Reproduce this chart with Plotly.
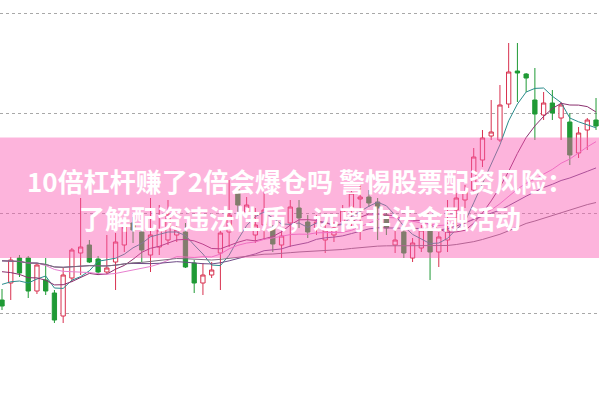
import plotly.graph_objects as go
import pandas as pd

# ---- data (prices) ----
day_index = list(range(69))
open_px = [9.13, 9.30, 9.55, 9.55, 9.22, 9.33, 9.20, 8.97, 9.35, 9.60,
           9.68, 9.54, 9.41, 9.51, 9.68, 9.90, 9.81, 9.58, 9.66, 9.73,
           9.78, 9.81, 9.50, 9.30, 9.38, 9.60, 9.81, 10.23, 10.01, 9.78,
           9.88, 9.85, 9.68, 9.90, 10.05, 9.91, 9.85, 9.73, 9.78, 9.91,
           10.06, 10.14, 10.16, 10.11, 9.98, 9.68, 9.81, 9.55, 9.65, 9.83,
           9.61, 9.73, 10.03, 10.13, 10.23, 10.53, 10.77, 10.73, 11.09, 11.42,
           11.39, 11.13, 10.98, 11.10, 10.95, 10.91, 10.60, 10.83, 10.93]
high_px = [9.24, 9.56, 9.58, 9.57, 9.50, 9.55, 9.23, 9.45, 9.65, 10.15,
           9.73, 9.57, 9.78, 9.80, 9.91, 9.96, 9.86, 10.15, 10.08, 10.13,
           9.93, 9.90, 9.53, 9.50, 9.51, 9.86, 10.33, 10.30, 10.16, 10.05,
           10.21, 9.88, 9.83, 10.13, 10.13, 9.98, 9.98, 9.90, 9.91, 10.08,
           10.23, 10.28, 10.23, 10.15, 10.03, 9.83, 9.85, 9.75, 9.88, 9.88,
           9.81, 10.13, 10.20, 10.28, 10.65, 10.83, 11.13, 11.28, 11.70, 11.70,
           11.40, 11.45, 11.21, 11.23, 11.11, 11.00, 10.86, 10.95, 11.15]
low_px = [9.03, 9.13, 9.36, 9.15, 9.19, 9.18, 8.90, 8.90, 9.31, 9.38,
          9.50, 9.38, 9.39, 9.23, 9.61, 9.70, 9.51, 9.41, 9.58, 9.68,
          9.71, 9.45, 9.20, 9.18, 9.35, 9.23, 9.66, 9.96, 9.98, 9.70,
          9.73, 9.61, 9.55, 9.66, 9.85, 9.75, 9.78, 9.60, 9.71, 9.85,
          9.85, 9.73, 10.06, 9.73, 9.78, 9.60, 9.55, 9.51, 9.61, 9.33,
          9.46, 9.61, 9.86, 10.05, 10.20, 10.46, 10.73, 10.71, 11.05, 11.11,
          11.21, 10.73, 10.93, 10.93, 10.73, 10.48, 10.55, 10.63, 10.83]
close_px = [9.07, 9.53, 9.40, 9.22, 9.48, 9.22, 8.93, 9.38, 9.63, 9.66,
            9.51, 9.41, 9.45, 9.71, 9.86, 9.83, 9.63, 9.78, 9.83, 9.98,
            9.83, 9.46, 9.30, 9.38, 9.43, 9.80, 9.98, 10.08, 10.08, 9.88,
            10.03, 9.69, 9.77, 10.06, 9.95, 9.81, 9.91, 9.83, 9.85, 10.03,
            10.20, 10.16, 10.10, 10.05, 9.85, 9.73, 9.60, 9.70, 9.83, 9.61,
            9.76, 9.83, 10.15, 10.21, 10.56, 10.75, 10.81, 11.08, 11.41, 11.40,
            11.35, 10.99, 11.10, 11.00, 11.08, 10.58, 10.80, 10.93, 10.87]
# closes before the first visible day (only used to warm up the averages)
prior_close = [9.70, 9.72, 9.75, 9.72, 9.68, 9.65, 9.62, 9.58, 9.55, 9.50,
               9.45, 9.40, 9.36, 9.32, 9.28]

ma_periods = [5, 10, 20, 30, 60]
ma_colors = ["#2b8c8c", "#8a2f6e", "#e77fcf", "#6e4a86", "#7d6d7d"]

title_line1 = "10倍杠杆赚了2倍会爆仓吗 警惕股票配资风险："
title_line2 = "了解配资违法性质，远离非法金融活动"

# ---- figure ----
fig = go.Figure()
fig.add_trace(go.Candlestick(
    x=day_index, open=open_px, high=high_px, low=low_px, close=close_px,
    increasing=dict(line=dict(color="#d8314f", width=1), fillcolor="#ffffff"),
    decreasing=dict(line=dict(color="#1f9a35", width=1), fillcolor="#1f9a35"),
    whiskerwidth=0, showlegend=False, hoverinfo="skip",
))

all_close = pd.Series(prior_close + close_px)
n_prior = len(prior_close)
for p, c in zip(ma_periods, ma_colors):
    ma = all_close.rolling(p, min_periods=1).mean().iloc[n_prior:].tolist()
    fig.add_trace(go.Scatter(x=day_index, y=ma, mode="lines",
                             line=dict(color=c, width=1), showlegend=False,
                             hoverinfo="skip"))

fig.add_shape(type="rect", xref="paper", yref="paper", x0=0, x1=1,
              y0=1 - 258 / 397, y1=1 - 137.5 / 397, layer="above",
              fillcolor="rgba(250,89,178,0.45)", line=dict(width=0))

for txt, yy in [(title_line1, 1 - 180 / 397), (title_line2, 1 - 217 / 397)]:
    fig.add_annotation(text=txt, xref="paper", yref="paper", x=0.5, y=yy,
                       showarrow=False, xanchor="center", yanchor="middle",
                       font=dict(family="Noto Sans CJK SC", size=26,
                                 color="white", weight="bold"))

fig.update_layout(
    width=599, height=397, margin=dict(l=0, r=0, t=0, b=0),
    paper_bgcolor="white", plot_bgcolor="white", boxgap=0.3,
    xaxis=dict(range=[-0.23, 68.34], showgrid=False, zeroline=False,
               showticklabels=False, rangeslider=dict(visible=False),
               fixedrange=True),
    yaxis=dict(range=[8.16, 12.13], tickvals=[9, 10, 11, 12],
               showticklabels=False, showgrid=True, gridcolor="#a8a8a8",
               griddash="dot", gridwidth=1, zeroline=False, fixedrange=True),
    hovermode=False,
)

fig.write_html("out.html", config={"displayModeBar": False})
